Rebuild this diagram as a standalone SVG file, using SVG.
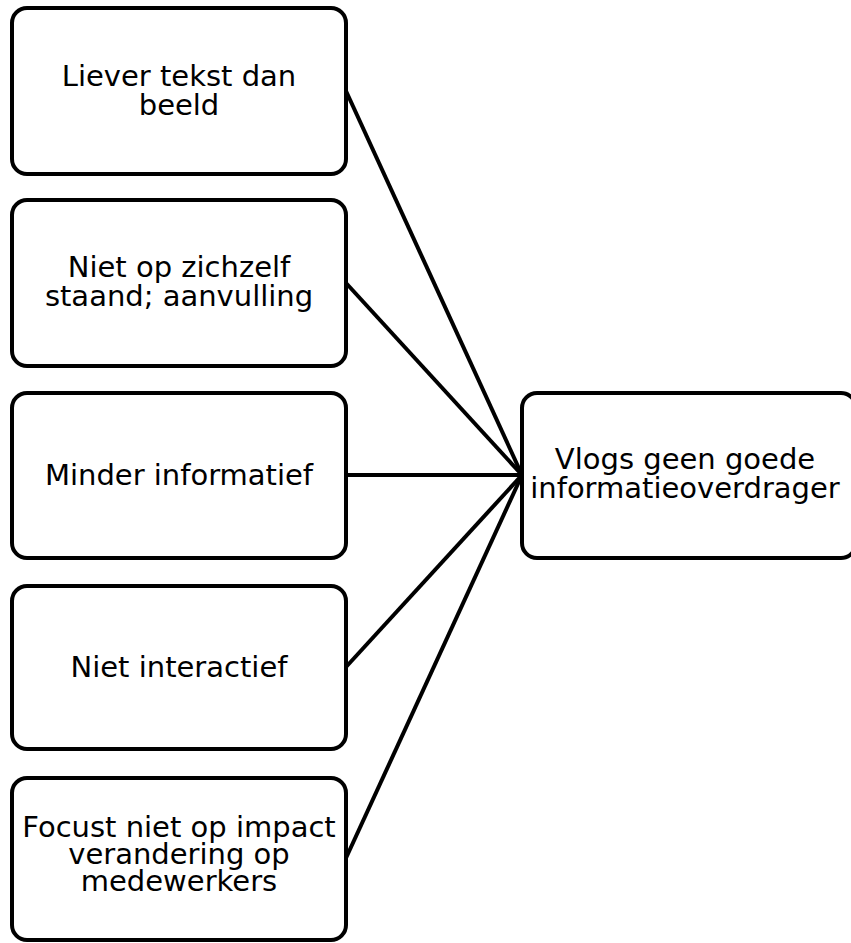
<svg xmlns="http://www.w3.org/2000/svg" width="851" height="943" viewBox="0 0 851 943">
<style>
.box{fill:#fff;stroke:#000;stroke-width:4}
.lbl{font-family:"DejaVu Sans",Verdana,sans-serif;font-size:29px;fill:#000;text-anchor:middle}
.conn{stroke:#000;stroke-width:4;fill:none}
</style>
<rect width="851" height="943" fill="#fff"/>
<g id="connectors">
<line class="conn" x1="346" y1="91" x2="522" y2="475"/>
<line class="conn" x1="346" y1="283" x2="522" y2="475"/>
<line class="conn" x1="346" y1="475" x2="522" y2="475"/>
<line class="conn" x1="346" y1="667" x2="522" y2="475"/>
<line class="conn" x1="346" y1="858" x2="522" y2="475"/>
</g>
<g id="n1">
<rect class="box" x="12" y="8" width="334" height="166" rx="15"/>
<text class="lbl" x="179" y="86">Liever tekst dan</text>
<text class="lbl" x="179" y="115">beeld</text>
</g>
<g id="n2">
<rect class="box" x="12" y="200" width="334" height="166" rx="15"/>
<text class="lbl" x="179" y="277">Niet op zichzelf</text>
<text class="lbl" x="179" y="306">staand; aanvulling</text>
</g>
<g id="n3">
<rect class="box" x="12" y="393" width="334" height="165" rx="15"/>
<text class="lbl" x="179" y="485">Minder informatief</text>
</g>
<g id="n4">
<rect class="box" x="12" y="586" width="334" height="163" rx="15"/>
<text class="lbl" x="179" y="677">Niet interactief</text>
</g>
<g id="n5">
<rect class="box" x="12" y="778" width="334" height="162" rx="15"/>
<text class="lbl" x="179" y="837">Focust niet op impact</text>
<text class="lbl" x="179" y="864">verandering op</text>
<text class="lbl" x="179" y="891">medewerkers</text>
</g>
<g id="n6">
<rect class="box" x="522" y="393" width="334" height="165" rx="15"/>
<text class="lbl" x="685" y="469">Vlogs geen goede</text>
<text class="lbl" x="685" y="498">informatieoverdrager</text>
</g>
</svg>
